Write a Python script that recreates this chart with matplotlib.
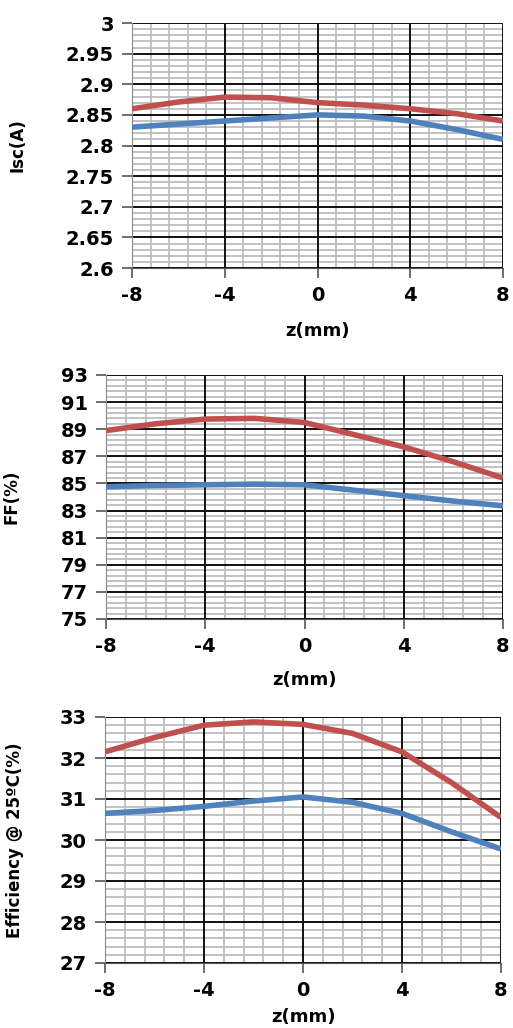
import matplotlib
matplotlib.use("Agg")
import matplotlib.pyplot as plt
from matplotlib.ticker import AutoMinorLocator, FixedLocator

RED = "#C0504D"
BLUE = "#4F81BD"

# z positions (mm)
z = [-8, -6, -4, -2, 0, 2, 4, 6, 8]

isc_red = [2.860, 2.871, 2.879, 2.878, 2.870, 2.866, 2.860, 2.852, 2.840]
isc_blue = [2.830, 2.835, 2.840, 2.845, 2.850, 2.848, 2.840, 2.826, 2.810]

ff_red = [88.9, 89.4, 89.75, 89.8, 89.5, 88.6, 87.7, 86.6, 85.4]
ff_blue = [84.75, 84.85, 84.9, 84.95, 84.9, 84.5, 84.1, 83.7, 83.35]

eff_red = [32.15, 32.5, 32.8, 32.88, 32.82, 32.6, 32.15, 31.4, 30.55]
eff_blue = [30.65, 30.72, 30.82, 30.95, 31.05, 30.92, 30.65, 30.2, 29.78]

x_ticks = [-8, -4, 0, 4, 8]
isc_ticks = [2.6, 2.65, 2.7, 2.75, 2.8, 2.85, 2.9, 2.95, 3.0]
isc_labels = ["2.6", "2.65", "2.7", "2.75", "2.8", "2.85", "2.9", "2.95", "3"]
ff_ticks = [75, 77, 79, 81, 83, 85, 87, 89, 91, 93]
eff_ticks = [27, 28, 29, 30, 31, 32, 33]

plt.rcParams["font.family"] = "DejaVu Sans"

fig = plt.figure(figsize=(5.13, 10.28), dpi=100)
W, H = 513, 1028

def make_ax(l, r, t, b):
    return fig.add_axes([l / W, 1 - b / H, (r - l) / W, (b - t) / H])

panels = [
    (make_ax(132, 503, 23, 268), isc_red, isc_blue, isc_ticks, isc_labels, "Isc(A)", -0.285, 12),
    (make_ax(106, 503, 375, 619), ff_red, ff_blue, ff_ticks, [str(v) for v in ff_ticks],
     "FF(%)", -0.215, 11),
    (make_ax(105, 501, 717, 963), eff_red, eff_blue, eff_ticks, [str(v) for v in eff_ticks],
     "Efficiency @ 25ºC(%)", -0.205, 6),
]

for ax, red, blue, yt, yl, ylabel, lx, xpad in panels:
    ax.plot(z, red, color=RED, lw=4.0, solid_capstyle="butt", zorder=3)
    ax.plot(z, blue, color=BLUE, lw=4.0, solid_capstyle="butt", zorder=3)
    ax.set_xlim(-8, 8)
    ax.set_ylim(yt[0], yt[-1])
    ax.xaxis.set_major_locator(FixedLocator(x_ticks))
    ax.set_xticklabels([str(v) for v in x_ticks])
    ax.yaxis.set_major_locator(FixedLocator(yt))
    ax.set_yticklabels(yl)
    ax.xaxis.set_minor_locator(AutoMinorLocator(5))
    ax.yaxis.set_minor_locator(AutoMinorLocator(5))
    ax.set_axisbelow(True)
    # minor grid from the axis, major grid drawn on top of it
    ax.grid(which="minor", color="#bdbdbd", lw=1.3)
    for v in x_ticks:
        ax.axvline(v, color="#111111", lw=1.4, zorder=1)
    for v in yt:
        ax.axhline(v, color="#111111", lw=1.4, zorder=1)
    ax.tick_params(which="major", direction="out", length=7, width=1.2, color="#555555",
                   labelsize=14, pad=6)
    ax.tick_params(which="minor", length=0)
    for lab in ax.get_xticklabels() + ax.get_yticklabels():
        lab.set_fontweight("bold")
    for s in ["top", "right"]:
        ax.spines[s].set_visible(False)
    ax.spines["left"].set_color("#8a8a8a")
    ax.spines["bottom"].set_color("#555555")
    ax.set_xlabel("z(mm)", fontsize=13, fontweight="bold", labelpad=xpad)
    ax.set_ylabel(ylabel, fontsize=12, fontweight="bold")
    ax.yaxis.set_label_coords(lx, 0.5)

fig.savefig("out.png", dpi=100)
